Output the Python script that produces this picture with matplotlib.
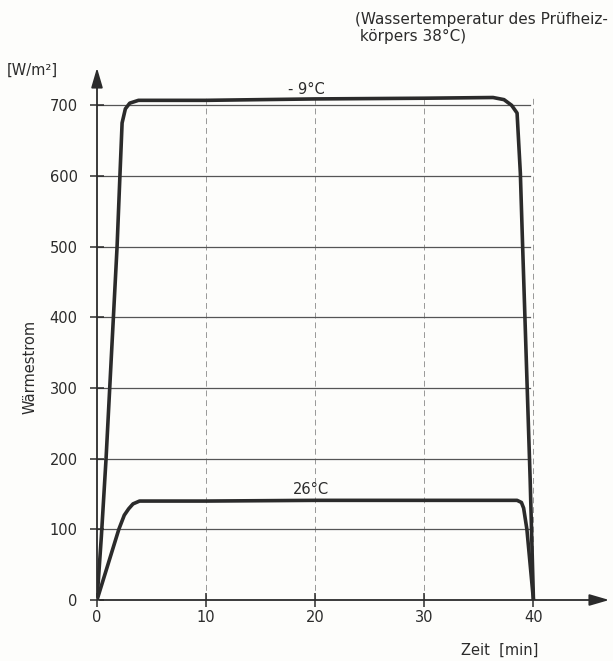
import matplotlib.pyplot as plt

# Wärmestrom curves
t_minus9 = [0, 0.4, 0.83, 1.3, 1.84, 2.1, 2.3, 2.6, 3.0, 3.8, 10, 20, 30, 36.3, 37.3, 38.0, 38.5, 38.8, 39.0, 39.7, 40.0]
q_minus9 = [0, 90, 200, 340, 500, 600, 675, 695, 703, 707, 707, 709, 710, 711, 708, 700, 689, 604, 505, 170, 0]

t_26 = [0, 1.0, 2.0, 2.5, 2.9, 3.3, 3.9, 10, 20, 30, 38.5, 38.9, 39.1, 39.4, 40.0]
q_26 = [0, 50, 100, 120, 129, 136, 140, 140, 141, 141, 141, 138, 130, 100, 0]

x_ticks = [0, 10, 20, 30, 40]
y_ticks = [0, 100, 200, 300, 400, 500, 600, 700]

ink = '#2b2b2b'
grid = '#555555'

fig = plt.figure(figsize=(6.13, 6.61), dpi=100, facecolor='#fdfdfb')
ax = fig.add_axes([97 / 613, 61 / 661, (612 - 97) / 613, (600 - 65) / 661])
ax.set_facecolor('#fdfdfb')
ax.set_xlim(0, 47.2)
ax.set_ylim(0, 757)
for s in ax.spines.values():
    s.set_visible(False)

# grid
for y in y_ticks[1:]:
    ax.plot([0, 39.7], [y, y], color=grid, lw=0.9, zorder=1)
for x in x_ticks[1:]:
    ax.plot([x, x], [0, 712], color=grid, lw=0.7, ls=(0, (6, 4)), alpha=0.6, zorder=1)

# axes with arrows
ax.annotate('', xy=(47.2, 0), xytext=(0, 0),
            arrowprops=dict(arrowstyle='-|>,head_length=1.2,head_width=0.35', color=ink, lw=1.3))
ax.annotate('', xy=(0, 757), xytext=(0, 0),
            arrowprops=dict(arrowstyle='-|>,head_length=1.2,head_width=0.35', color=ink, lw=1.3))

ax.plot(t_minus9, q_minus9, color=ink, lw=2.6, solid_joinstyle='round', zorder=3)
ax.plot(t_26, q_26, color=ink, lw=2.6, solid_joinstyle='round', zorder=3)

ax.set_xticks(x_ticks)
ax.set_yticks(y_ticks)
ax.tick_params(direction='inout', length=10, width=1.1, color=ink,
               labelsize=10.5, labelcolor=ink)
ax.tick_params(axis='y', pad=9)
ax.tick_params(axis='x', pad=2)

ax.text(19.2, 723, '- 9°C', ha='center', va='center', fontsize=10.5, color=ink)
ax.text(19.6, 156, '26°C', ha='center', va='center', fontsize=10.5, color=ink)

fig.text(30 / 613, 1 - 367 / 661, 'Wärmestrom', rotation=90, ha='center', va='center',
         fontsize=10.5, color=ink)
fig.text(32 / 613, 1 - 70 / 661, '[W/m²]', ha='center', va='center', fontsize=10.5, color=ink)
fig.text(500 / 613, 1 - 650 / 661, 'Zeit  [min]', ha='center', va='center', fontsize=10.5, color=ink)
fig.text(355 / 613, 1 - 28 / 661, '(Wassertemperatur des Prüfheiz-\n körpers 38°C)',
         ha='left', va='center', fontsize=11, color=ink, linespacing=1.2)

fig.savefig('out.png', dpi=100, facecolor=fig.get_facecolor())
